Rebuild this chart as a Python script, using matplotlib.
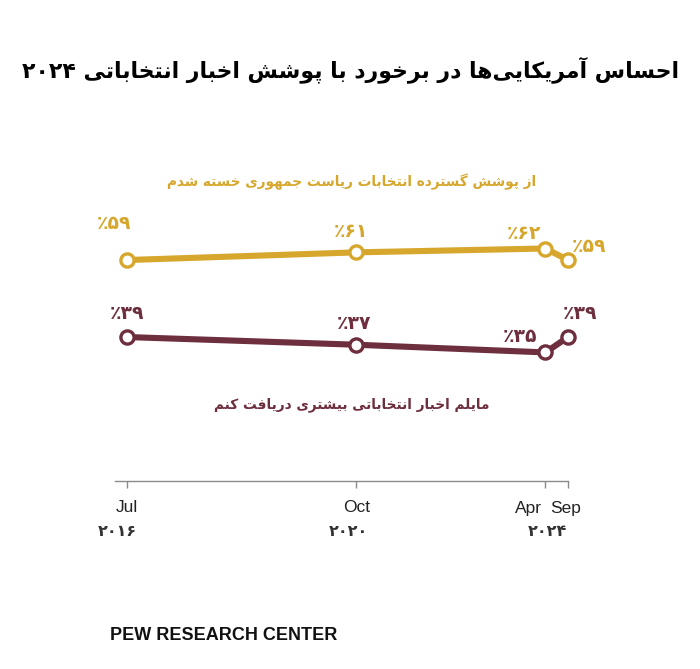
import matplotlib
matplotlib.use("Agg")
import matplotlib.pyplot as plt

# ---------------- data ----------------
years = [2016, 2020, 2024, 2024]
months = [7, 10, 4, 9]
month_labels = ["Jul", "Oct", "Apr", "Sep"]
year_labels = ["۲۰۱۶", "۲۰۲۰", "۲۰۲۴"]
tired_vals = [59, 61, 62, 59]
more_vals = [39, 37, 35, 39]
tired_name = "از پوشش گسترده انتخابات ریاست جمهوری خسته شدم"
more_name = "مایلم اخبار انتخاباتی بیشتری دریافت کنم"
title = "احساس آمریکایی\u200cها در برخورد با پوشش اخبار انتخاباتی ۲۰۲۴"
source = "PEW RESEARCH CENTER"

# ---------------- simple Persian shaping ----------------
FORMS = {
    'ا': (0xFE8D, 0xFE8E, None, None), 'آ': (0xFE81, 0xFE82, None, None),
    'ب': (0xFE8F, 0xFE90, 0xFE91, 0xFE92), 'پ': (0xFB56, 0xFB57, 0xFB58, 0xFB59),
    'ت': (0xFE95, 0xFE96, 0xFE97, 0xFE98), 'ث': (0xFE99, 0xFE9A, 0xFE9B, 0xFE9C),
    'ج': (0xFE9D, 0xFE9E, 0xFE9F, 0xFEA0), 'چ': (0xFB7A, 0xFB7B, 0xFB7C, 0xFB7D),
    'ح': (0xFEA1, 0xFEA2, 0xFEA3, 0xFEA4), 'خ': (0xFEA5, 0xFEA6, 0xFEA7, 0xFEA8),
    'د': (0xFEA9, 0xFEAA, None, None), 'ذ': (0xFEAB, 0xFEAC, None, None),
    'ر': (0xFEAD, 0xFEAE, None, None), 'ز': (0xFEAF, 0xFEB0, None, None),
    'ژ': (0xFB8A, 0xFB8B, None, None),
    'س': (0xFEB1, 0xFEB2, 0xFEB3, 0xFEB4), 'ش': (0xFEB5, 0xFEB6, 0xFEB7, 0xFEB8),
    'ص': (0xFEB9, 0xFEBA, 0xFEBB, 0xFEBC), 'ض': (0xFEBD, 0xFEBE, 0xFEBF, 0xFEC0),
    'ط': (0xFEC1, 0xFEC2, 0xFEC3, 0xFEC4), 'ظ': (0xFEC5, 0xFEC6, 0xFEC7, 0xFEC8),
    'ع': (0xFEC9, 0xFECA, 0xFECB, 0xFECC), 'غ': (0xFECD, 0xFECE, 0xFECF, 0xFED0),
    'ف': (0xFED1, 0xFED2, 0xFED3, 0xFED4), 'ق': (0xFED5, 0xFED6, 0xFED7, 0xFED8),
    'ک': (0xFB8E, 0xFB8F, 0xFB90, 0xFB91), 'گ': (0xFB92, 0xFB93, 0xFB94, 0xFB95),
    'ل': (0xFEDD, 0xFEDE, 0xFEDF, 0xFEE0), 'م': (0xFEE1, 0xFEE2, 0xFEE3, 0xFEE4),
    'ن': (0xFEE5, 0xFEE6, 0xFEE7, 0xFEE8), 'ه': (0xFEE9, 0xFEEA, 0xFEEB, 0xFEEC),
    'و': (0xFEED, 0xFEEE, None, None), 'ی': (0xFBFC, 0xFBFD, 0xFBFE, 0xFBFF),
}
DIGITS = set("۰۱۲۳۴۵۶۷۸۹0123456789")


def shape(text):
    out = []
    n = len(text)
    for i, c in enumerate(text):
        if c not in FORMS:
            out.append(c)
            continue
        prev = text[i - 1] if i > 0 else ''
        nxt = text[i + 1] if i + 1 < n else ''
        f = FORMS[c]
        jp = prev in FORMS and FORMS[prev][2] is not None
        jn = f[2] is not None and nxt in FORMS
        if jp and jn:
            g = f[3]
        elif jp:
            g = f[1]
        elif jn:
            g = f[2]
        else:
            g = f[0]
        out.append(chr(g))
    s = ''.join(out).replace('\u200c', '')
    tokens, cur, cur_d = [], '', None
    for ch in s:
        d = ch in DIGITS
        if cur and d != cur_d:
            tokens.append((cur, cur_d))
            cur = ''
        cur += ch
        cur_d = d
    if cur:
        tokens.append((cur, cur_d))
    return ''.join(t if d else t[::-1] for t, d in reversed(tokens))


def to_fa(v):
    return ''.join("۰۱۲۳۴۵۶۷۸۹"[int(ch)] for ch in str(v))


# ---------------- figure ----------------
W, H = 700, 669
fig = plt.figure(figsize=(7, 6.69), dpi=100)
fig.patch.set_facecolor('white')

GOLD = '#D6A72C'
MAROON = '#6D2E3D'
FA = ['DejaVu Sans', 'DejaVu Sans Mono', 'DejaVu Serif', 'Noto Sans']

xs = [y + (m - 1) / 12 for y, m in zip(years, months)]
px_per_year = 54.0
left_px, right_px = 115, 568
top_px, bot_px = 200, 481
ax = fig.add_axes([left_px / W, 1 - bot_px / H, (right_px - left_px) / W, (bot_px - top_px) / H])
ax.set_xlim(xs[0] - (127 - left_px) / px_per_year, xs[-1])
ax.set_ylim(1.6, 74.6)

for vals, col in [(tired_vals, GOLD), (more_vals, MAROON)]:
    ax.plot(xs, vals, color=col, lw=4.4, marker='o', ms=9.5, mfc='white',
            mec=col, mew=2.4, clip_on=False, solid_capstyle='round', zorder=3)

tired_off = [(-13, 37, 'center'), (-6, 21, 'center'), (-22, 15, 'center'), (4, 14, 'left')]
more_off = [(0, 24, 'center'), (-2, 21, 'center'), (-25, 16, 'center'), (12, 24, 'center')]
for vals, col, offs in [(tired_vals, GOLD, tired_off), (more_vals, MAROON, more_off)]:
    for x, v, (dx, dy, ha) in zip(xs, vals, offs):
        ax.annotate('٪' + to_fa(v), (x, v), xytext=(dx, dy), textcoords='offset pixels',
                    ha=ha, va='center', color=col, fontsize=13.5, fontweight='bold',
                    family=FA, annotation_clip=False)

for s in ['left', 'right', 'top']:
    ax.spines[s].set_visible(False)
ax.spines['bottom'].set_color('#8a8a8a')
ax.spines['bottom'].set_linewidth(1.0)
ax.set_yticks([])
ax.set_xticks(xs)
ax.set_xticklabels([])
ax.tick_params(axis='x', direction='out', length=5, width=1, color='#8a8a8a')

month_offs = [(0, 'center'), (0, 'center'), (-4, 'right'), (-18, 'left')]
for x, lab, (dx, ha) in zip(xs, month_labels, month_offs):
    ax.annotate(lab, (x, 0), xycoords=('data', 'axes fraction'), xytext=(dx, -27),
                textcoords='offset pixels', ha=ha, va='center', fontsize=12.5,
                family='Liberation Sans', color='#222222', annotation_clip=False)
year_pos = [xs[0], xs[1], (xs[2] + xs[3]) / 2]
year_dx = [-10, -8, -9]
for x, lab, dx in zip(year_pos, year_labels, year_dx):
    ax.annotate(lab, (x, 0), xycoords=('data', 'axes fraction'), xytext=(dx, -50),
                textcoords='offset pixels', ha='center', va='center', fontsize=11.5,
                fontweight='bold', family=FA, color='#333333',
                annotation_clip=False)

fig.text(352 / W, 1 - 182 / H, shape(tired_name), ha='center', va='center',
         fontsize=9.8, fontweight='bold', color=GOLD, family=FA)
fig.text(352 / W, 1 - 405 / H, shape(more_name), ha='center', va='center',
         fontsize=9.8, fontweight='bold', color=MAROON, family=FA)

fig.text(0.5, 1 - 70 / H, shape(title), ha='center', va='center', fontsize=15.8,
         fontweight='bold', color='black', family=FA)

fig.text(110 / W, 1 - 635 / H, source, ha='left', va='center', fontsize=13,
         fontweight='bold', family='Liberation Sans', color='#111111')

fig.savefig('out.png', dpi=100, facecolor='white')
